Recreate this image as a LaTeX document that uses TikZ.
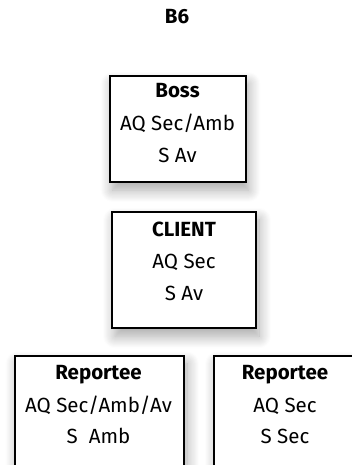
\documentclass[tikz,border=0pt]{standalone}
\usepackage{fontspec}
\setmainfont{Fira Sans}
\usetikzlibrary{shadows.blur}
\begin{document}
\begin{tikzpicture}[x=1pt,y=-1pt,
  box/.style={draw=black, line width=2pt, fill=white, rectangle, inner sep=0pt,
    blur shadow={shadow xshift=3pt, shadow yshift=-8pt, shadow blur radius=12pt, shadow blur steps=12, shadow opacity=35}},
  txt/.style={anchor=base, inner sep=0pt, font=\fontsize{20.5}{24}\selectfont},
  head/.style={txt, font=\fontsize{20.5}{24}\selectfont\bfseries}]
\useasboundingbox (0,0) rectangle (352,465);
\node[head] (title) at (177,24) {B6};
\node[box, minimum width=136pt, minimum height=106pt] (boss) at (177.5,129) {};
\node[head] (bossT) at (177.5,98) {Boss};
\node[txt] (bossA) at (177.5,131) {AQ Sec/Amb};
\node[txt] (bossS) at (177.5,163) {S Av};
\node[box, minimum width=144pt, minimum height=116.5pt] (client) at (184,270) {};
\node[head] (clientT) at (184,236) {CLIENT};
\node[txt] (clientA) at (184,268) {AQ Sec};
\node[txt] (clientS) at (184,300) {S Av};
\node[box, minimum width=169.5pt, minimum height=124.5pt] (repL) at (99.25,417.75) {};
\node[head] (repLT) at (98.5,379) {Reportee};
\node[txt] (repLA) at (98.5,412) {AQ Sec/Amb/Av};
\node[txt] (repLS) at (98.5,443) {S\ \ Amb};
\node[box, minimum width=142pt, minimum height=124.5pt] (repR) at (285,417.75) {};
\node[head] (repRT) at (285,379) {Reportee};
\node[txt] (repRA) at (285,412) {AQ Sec};
\node[txt] (repRS) at (285,443) {S Sec};
\end{tikzpicture}
\end{document}
